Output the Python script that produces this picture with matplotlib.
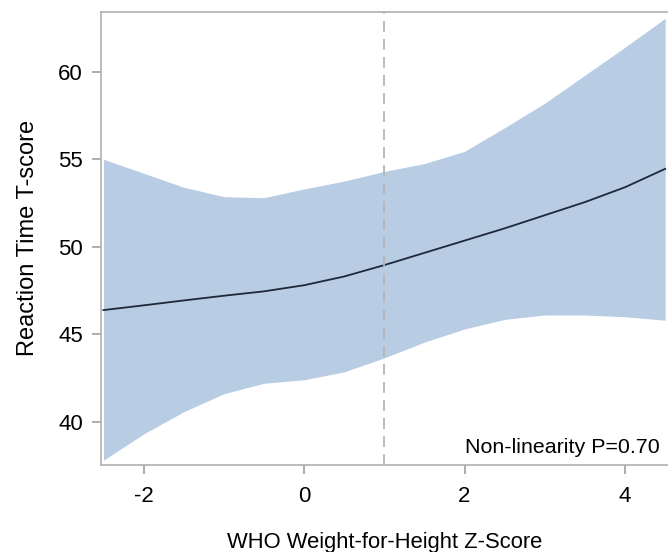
import numpy as np
import matplotlib.pyplot as plt

# values
z = [-2.5, -2.0, -1.5, -1.0, -0.5, 0.0, 0.5, 1.0, 1.5, 2.0, 2.5, 3.0, 3.5, 4.0, 4.5]
rt_fit = [46.38, 46.65, 46.93, 47.2, 47.45, 47.8, 48.3, 48.95, 49.65, 50.35, 51.05, 51.8, 52.55, 53.4, 54.45]
rt_upper = [55.0, 54.2, 53.4, 52.86, 52.8, 53.3, 53.75, 54.3, 54.75, 55.45, 56.8, 58.2, 59.8, 61.4, 63.05]
rt_lower = [37.8, 39.3, 40.57, 41.6, 42.2, 42.4, 42.85, 43.65, 44.55, 45.3, 45.85, 46.1, 46.1, 46.0, 45.8]

cut_point = 1.0
annot = 'Non-linearity P=0.70'

plt.rcParams['font.family'] = ['Liberation Sans', 'DejaVu Sans']
plt.rcParams['axes.unicode_minus'] = False

fig = plt.figure(figsize=(6.68, 5.52), dpi=100)
W, H = 668, 552
ax = fig.add_axes([101 / W, 1 - 465 / H, 569.8 / W, 453 / H])

ax.fill_between(z, rt_lower, rt_upper, color='#b8cce4', linewidth=0)
ax.plot(z, rt_fit, color='#1e2838', linewidth=1.3)
ax.axvline(cut_point, color='#b4b4b4', linestyle=(0, (6, 4)), linewidth=1.3)

ax.set_xlim(-2.53, 4.57)
ax.set_ylim(37.53, 63.41)
ax.set_xticks([-2, 0, 2, 4])
ax.set_yticks([40, 45, 50, 55, 60])

for s in ax.spines.values():
    s.set_color('#b0b0b0')
    s.set_linewidth(1.2)
ax.tick_params(colors='#a0a0a0', labelcolor='black', length=6.5, width=1.2,
               labelsize=16)
ax.tick_params(axis='y', pad=6.5)
ax.tick_params(axis='x', pad=8.5)

ax.set_xlabel('WHO Weight-for-Height Z-Score', fontsize=15.8)
ax.xaxis.set_label_coords(0.498, -0.147)
ax.set_ylabel('Reaction Time T-score', fontsize=17)
ax.yaxis.set_label_coords(-0.109, 0.501)

ax.text(0.981, 0.0265, annot, transform=ax.transAxes, ha='right', va='baseline',
        fontsize=15.4)

fig.savefig('out.png', dpi=100)
